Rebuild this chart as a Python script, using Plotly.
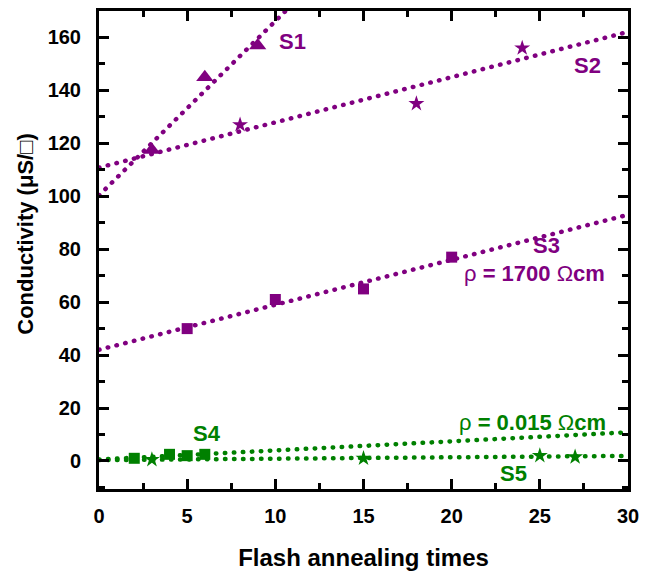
import numpy as np
import plotly.graph_objects as go

PURPLE = "#800080"
GREEN = "#008000"

# Data
s1_x = [3, 6, 9]
s1_y = [117.5, 145, 157]
s2_x = [8, 18, 24]
s2_y = [127, 135, 156]
s3_x = [5, 10, 15, 20]
s3_y = [50, 61, 65, 77]
s4_x = [2, 4, 5, 6]
s4_y = [1, 2.5, 2, 2.5]
s5_x = [3, 15, 25, 27]
s5_y = [0.5, 1, 2, 1.5]

x_tick_vals = [0, 5, 10, 15, 20, 25, 30]
y_tick_vals = [0, 20, 40, 60, 80, 100, 120, 140, 160]

FONT = "Liberation Sans, Arial, sans-serif"

fig = go.Figure()

def add_series(xs, ys, color, symbol, size):
    k, b = np.polyfit(xs, ys, 1)
    fx = np.array([0, 30])
    fig.add_trace(go.Scatter(x=fx, y=k * fx + b, mode="lines",
                             line=dict(color=color, width=4.5, dash="0.5px,8.5px"),
                             showlegend=False, hoverinfo="skip"))
    fig.add_trace(go.Scatter(x=xs, y=ys, mode="markers",
                             marker=dict(color=color, symbol=symbol, size=size,
                                         line=dict(width=0)),
                             showlegend=False))

add_series(s1_x, s1_y, PURPLE, "triangle-up", 15)
add_series(s2_x, s2_y, PURPLE, "star", 12)
add_series(s3_x, s3_y, PURPLE, "square", 11)
add_series(s4_x, s4_y, GREEN, "square", 11)
add_series(s5_x, s5_y, GREEN, "star", 12)

def ann(x, y, text, color):
    fig.add_annotation(x=x, y=y, xref="x", yref="y", text=text, showarrow=False,
                       font=dict(family=FONT, size=22, color=color))

ann(11.0, 158.5, "<b>S1</b>", PURPLE)
ann(27.7, 149.5, "<b>S2</b>", PURPLE)
ann(25.4, 81.5, "<b>S3</b>", PURPLE)
ann(24.7, 71.0, "ρ <b>= 1700</b> Ω<b>cm</b>", PURPLE)
ann(6.1, 10.5, "<b>S4</b>", GREEN)
ann(24.6, 14.5, "ρ <b>= 0.015</b> Ω<b>cm</b>", GREEN)
ann(23.5, -4.6, "<b>S5</b>", GREEN)

# y-axis title as annotation (offset from plot centre as in reference)
fig.add_annotation(x=-0.139, y=0.535, xref="paper", yref="paper",
                   xanchor="center", yanchor="middle",
                   text="<b>Conductivity (μS/□)</b>", textangle=-90, showarrow=False,
                   font=dict(family=FONT, size=22, color="black"))

axis_common = dict(showline=True, linecolor="black", linewidth=3, mirror="ticks",
                   ticks="inside", ticklen=10, tickwidth=2.5, tickcolor="black",
                   showgrid=False, zeroline=False,
                   tickfont=dict(family=FONT, size=20, color="black", weight="bold"))

fig.update_xaxes(range=[0, 30], tickvals=x_tick_vals, ticklabelstandoff=7,
                 minor=dict(dtick=2.5, ticks="inside", ticklen=6, tickwidth=2.5, tickcolor="black"),
                 title=dict(text="<b>Flash annealing times</b>",
                            font=dict(family=FONT, size=24, color="black"), standoff=24),
                 **axis_common)
fig.update_yaxes(range=[-10.6, 170], tickvals=y_tick_vals, ticklabelstandoff=11,
                 minor=dict(dtick=10, ticks="inside", ticklen=6, tickwidth=2.5, tickcolor="black"),
                 **axis_common)

fig.update_layout(width=656, height=576, plot_bgcolor="white", paper_bgcolor="white",
                  margin=dict(l=99, r=28, t=8, b=87), showlegend=False)

post = """
function roundDots(){
  document.querySelectorAll('.scatterlayer .js-line').forEach(function(p){
    p.style.strokeLinecap = 'round';
  });
}
roundDots();
var gd = document.getElementById('{plot_id}');
if (gd && gd.on) { gd.on('plotly_afterplot', roundDots); }
"""

fig.write_html("out.html", post_script=post)
